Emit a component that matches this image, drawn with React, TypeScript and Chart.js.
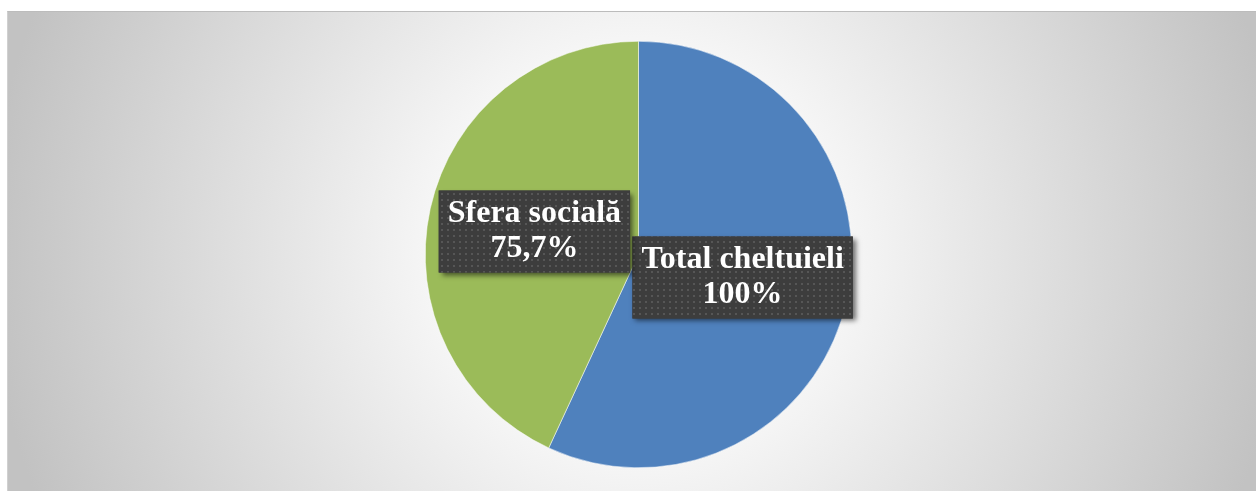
import React, { useEffect, useRef } from "react";
import { Chart, registerables } from "chart.js";

Chart.register(...registerables);

const categories = ["Total cheltuieli", "Sfera socială"];
const values = [100, 75.7];
const valueLabels = ["100%", "75,7%"];
const colors = ["#4F81BD", "#9BBB59"];

function makePattern(ctx: CanvasRenderingContext2D) {
  const c = document.createElement("canvas");
  c.width = 6;
  c.height = 6;
  const p = c.getContext("2d")!;
  p.fillStyle = "#3d3d3d";
  p.fillRect(0, 0, 6, 6);
  p.fillStyle = "#565656";
  p.fillRect(1, 1, 2, 2);
  return ctx.createPattern(c, "repeat");
}

const bgPlugin = {
  id: "bgGrad",
  beforeDraw(chart: any) {
    const { ctx, width, height } = chart;
    ctx.save();
    const g = ctx.createRadialGradient(width / 2 + 6, height / 2, 0, width / 2 + 6, height / 2, 650);
    g.addColorStop(0, "#ffffff");
    g.addColorStop(0.25, "#fbfbfb");
    g.addColorStop(1, "#c2c2c2");
    ctx.fillStyle = g;
    ctx.fillRect(0, 0, width, height);
    ctx.restore();
  },
};

const labelPlugin = {
  id: "boxLabels",
  afterDatasetsDraw(chart: any) {
    const { ctx } = chart;
    const meta = chart.getDatasetMeta(0);
    const pattern = makePattern(ctx);
    ctx.save();
    ctx.font = "bold 32px 'Liberation Serif', 'Times New Roman', serif";
    const lineH = 35;
    meta.data.forEach((arc: any, i: number) => {
      const pos = arc.tooltipPosition();
      const lines = [categories[i], valueLabels[i]];
      const tw = Math.max(...lines.map((l) => ctx.measureText(l).width));
      const w = tw + 18;
      const h = lineH * 2 + 12;
      const x = pos.x - w / 2;
      const y = pos.y - h / 2;
      ctx.save();
      ctx.shadowColor = "rgba(0,0,0,0.55)";
      ctx.shadowBlur = 5;
      ctx.shadowOffsetX = 3;
      ctx.shadowOffsetY = 3;
      ctx.fillStyle = "#3d3d3d";
      ctx.fillRect(x, y, w, h);
      ctx.restore();
      ctx.fillStyle = pattern || "#3d3d3d";
      ctx.fillRect(x, y, w, h);
      ctx.fillStyle = "#ffffff";
      ctx.textAlign = "center";
      ctx.textBaseline = "middle";
      ctx.fillText(lines[0], pos.x, pos.y - lineH / 2);
      ctx.fillText(lines[1], pos.x, pos.y + lineH / 2);
    });
    ctx.restore();
  },
};

export default function App() {
  const ref = useRef<HTMLCanvasElement>(null);
  useEffect(() => {
    if (!ref.current) return;
    const chart = new Chart(ref.current, {
      type: "pie",
      data: {
        labels: categories,
        datasets: [
          {
            data: values,
            backgroundColor: colors,
            borderColor: "#ffffff",
            borderWidth: 0.5,
          },
        ],
      },
      options: {
        animation: false,
        responsive: true,
        maintainAspectRatio: false,
        layout: { padding: { left: 14, right: 1, top: 29, bottom: 23 } },
        plugins: {
          legend: { display: false },
          tooltip: { enabled: false },
        },
      },
      plugins: [bgPlugin, labelPlugin],
    });
    return () => chart.destroy();
  }, []);
  return (
    <div
      style={{
        position: "fixed",
        left: 7,
        top: 11,
        width: 1249,
        height: 480,
        boxSizing: "border-box",
        borderTop: "1px solid #bcbcbc",
        borderLeft: "1px solid #d0d0d0",
      }}
    >
      <canvas ref={ref} />
    </div>
  );
}
